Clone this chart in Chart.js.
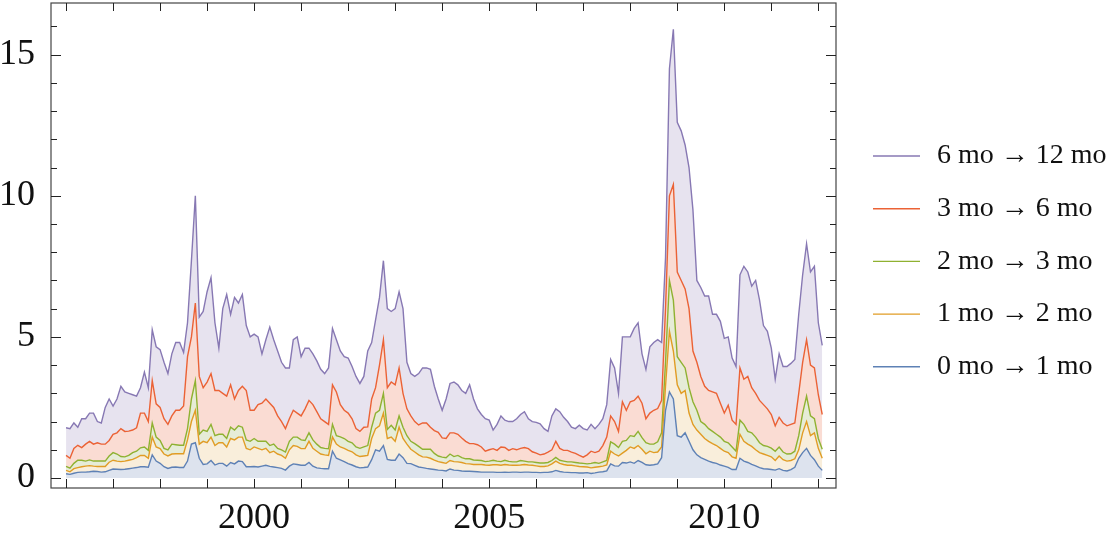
<!DOCTYPE html>
<html>
<head>
<meta charset="utf-8">
<title>Implied forward variance</title>
<script src="https://cdn.jsdelivr.net/npm/chart.js@4.4.1/dist/chart.umd.min.js"></script>
<style>
  html, body { margin: 0; padding: 0; background: #ffffff; }
  #wrap { width: 1117px; height: 533px; }
</style>
</head>
<body>
<div id="wrap"><canvas id="myChart" width="1117" height="533"></canvas></div>
<script>
// ---------- data (monthly, Jan 1996 .. Feb 2012) ----------
const startYear = 1996;

const labels = ['0 mo \u2192 1 mo', '1 mo \u2192 2 mo', '2 mo \u2192 3 mo', '3 mo \u2192 6 mo', '6 mo \u2192 12 mo'];

const blue = [
  0.15, 0.13, 0.17, 0.2, 0.21, 0.21, 0.22, 0.24, 0.23, 0.21, 0.22, 0.27,
  0.32, 0.31, 0.3, 0.31, 0.33, 0.35, 0.37, 0.4, 0.4, 0.38, 0.82, 0.6,
  0.52, 0.4, 0.34, 0.38, 0.39, 0.37, 0.37, 0.6, 1.2, 1.25, 0.7, 0.48,
  0.5, 0.62, 0.46, 0.52, 0.52, 0.42, 0.55, 0.5, 0.6, 0.58, 0.4, 0.4,
  0.41, 0.39, 0.42, 0.45, 0.41, 0.39, 0.37, 0.34, 0.28, 0.42, 0.5, 0.48,
  0.45, 0.45, 0.55, 0.42, 0.36, 0.34, 0.33, 0.33, 0.95, 0.7, 0.64, 0.58,
  0.51, 0.46, 0.4, 0.36, 0.37, 0.39, 0.65, 1.0, 0.95, 1.15, 0.66, 0.63,
  0.63, 0.85, 0.72, 0.52, 0.51, 0.45, 0.39, 0.37, 0.34, 0.32, 0.3, 0.28,
  0.27, 0.25, 0.32, 0.28, 0.27, 0.25, 0.24, 0.24, 0.23, 0.22, 0.21, 0.21,
  0.21, 0.21, 0.2, 0.2, 0.21, 0.2, 0.21, 0.21, 0.2, 0.21, 0.21, 0.2,
  0.2, 0.19, 0.2, 0.2, 0.22, 0.27, 0.23, 0.21, 0.2, 0.19, 0.19, 0.18,
  0.18, 0.19, 0.16, 0.18, 0.21, 0.22, 0.25, 0.5, 0.43, 0.42, 0.55, 0.53,
  0.57, 0.52, 0.62, 0.55, 0.47, 0.45, 0.47, 0.5, 0.72, 2.4, 3.05, 2.8,
  1.5, 1.45, 1.6, 1.3, 1.0, 0.82, 0.72, 0.66, 0.6, 0.55, 0.52, 0.46,
  0.42, 0.38, 0.3, 0.3, 0.7, 0.6, 0.55, 0.48, 0.43, 0.37, 0.33, 0.32,
  0.3, 0.28, 0.33, 0.27, 0.25, 0.3, 0.38, 0.7, 0.9, 1.05, 0.8, 0.65,
  0.42, 0.27
];

const orange = [
  0.27, 0.22, 0.33, 0.37, 0.4, 0.42, 0.44, 0.42, 0.41, 0.41, 0.41, 0.56,
  0.63, 0.6, 0.58, 0.6, 0.63, 0.66, 0.72, 0.8, 0.8, 0.7, 1.45, 1.1,
  1.04, 0.85, 0.78, 0.85, 0.86, 0.86, 0.86, 1.35, 2.0, 2.4, 1.2, 1.3,
  1.25, 1.45, 1.15, 1.25, 1.25, 1.1, 1.4, 1.35, 1.45, 1.45, 1.05, 1.0,
  1.1, 1.05, 1.0, 1.05, 0.9, 0.95, 0.85, 0.8, 0.7, 1.0, 1.15, 1.12,
  1.04, 1.04, 1.3, 1.05, 0.95, 0.85, 0.82, 0.8, 1.45, 1.2, 1.1, 1.05,
  0.98, 0.93, 0.82, 0.76, 0.78, 0.8, 1.4, 1.75, 1.85, 2.3, 1.4, 1.45,
  1.3, 1.8, 1.4, 1.2, 1.02, 0.92, 0.82, 0.75, 0.74, 0.7, 0.63, 0.58,
  0.55, 0.52, 0.62, 0.58, 0.57, 0.55, 0.51, 0.5, 0.48, 0.48, 0.48, 0.46,
  0.45, 0.47, 0.47, 0.45, 0.48, 0.46, 0.45, 0.45, 0.46, 0.48, 0.46, 0.45,
  0.43, 0.41, 0.41, 0.43, 0.5, 0.6, 0.52, 0.48, 0.45, 0.45, 0.43, 0.41,
  0.4, 0.39, 0.36, 0.38, 0.4, 0.42, 0.46, 0.95, 0.85, 0.78, 0.88, 0.98,
  1.1, 1.05, 1.15, 1.02, 0.86, 0.95, 0.9, 0.92, 1.1, 3.25, 5.2, 4.5,
  3.3, 3.0, 3.1, 2.3, 1.9, 1.7, 1.55, 1.4, 1.3, 1.22, 1.15, 1.05,
  0.95, 0.9, 0.75, 0.7, 1.55, 1.3, 1.2, 1.12, 1.0, 0.9, 0.85, 0.8,
  0.75, 0.62, 0.78, 0.65, 0.6, 0.62, 0.68, 1.0, 1.6, 2.0, 1.5, 1.6,
  1.05, 0.7
];

const green = [
  0.41, 0.35, 0.52, 0.63, 0.63, 0.6, 0.64, 0.6, 0.6, 0.6, 0.6, 0.78,
  0.9, 0.85, 0.76, 0.75, 0.8, 0.9, 0.95, 1.07, 1.1, 0.98, 1.95, 1.45,
  1.33, 1.05, 1.0, 1.2, 1.18, 1.16, 1.16, 1.75, 2.8, 3.45, 1.55, 1.7,
  1.65, 1.9, 1.5, 1.55, 1.55, 1.4, 1.8, 1.7, 1.85, 1.8, 1.35, 1.3,
  1.4, 1.3, 1.3, 1.3, 1.15, 1.2, 1.05, 1.0, 0.92, 1.3, 1.45, 1.45,
  1.35, 1.33, 1.6, 1.35, 1.2, 1.08, 1.05, 1.04, 1.9, 1.5, 1.46, 1.4,
  1.3, 1.25, 1.1, 1.05, 1.1, 1.15, 1.8, 2.3, 2.4, 3.0, 1.72, 1.87,
  1.7, 2.2, 1.8, 1.5, 1.3, 1.22, 1.12, 1.02, 1.02, 1.02, 0.87, 0.78,
  0.74, 0.72, 0.85, 0.76, 0.8, 0.72, 0.68, 0.68, 0.64, 0.63, 0.62, 0.58,
  0.6, 0.63, 0.6, 0.58, 0.63, 0.59, 0.57, 0.57, 0.62, 0.6, 0.57, 0.57,
  0.55, 0.53, 0.53, 0.55, 0.62, 0.73, 0.63, 0.6, 0.57, 0.57, 0.55, 0.53,
  0.52, 0.5, 0.52, 0.55, 0.52, 0.57, 0.62, 1.28, 1.2, 1.08, 1.3, 1.33,
  1.5, 1.47, 1.65, 1.43, 1.25, 1.2, 1.2, 1.28, 1.6, 4.1, 7.0, 6.3,
  4.3, 4.1, 3.9, 3.2, 2.7, 2.4, 2.0, 1.9, 1.75, 1.65, 1.55, 1.45,
  1.3, 1.25, 1.1, 0.95, 2.05, 1.9, 1.65, 1.6, 1.45, 1.25, 1.15, 1.12,
  1.06, 0.95, 1.1, 0.92, 0.85, 0.86, 0.95, 1.5, 2.3, 2.9, 2.2, 2.1,
  1.4, 1.02
];

const red = [
  0.8, 0.7, 1.05, 1.16, 1.08, 1.2, 1.3, 1.2, 1.25, 1.2, 1.2, 1.33,
  1.55, 1.6, 1.75, 1.65, 1.66, 1.7, 1.78, 2.3, 2.3, 2.0, 3.45, 2.63,
  2.5, 2.1, 1.9, 2.2, 2.4, 2.4, 2.55, 4.3, 5.0, 6.2, 3.6, 3.2,
  3.4, 3.7, 3.1, 3.1, 3.0, 2.9, 3.3, 2.8, 3.1, 3.25, 3.1, 2.4,
  2.4, 2.6, 2.65, 2.8, 2.65, 2.5, 2.2, 2.0, 1.75, 2.1, 2.4, 2.3,
  2.2, 2.45, 2.75, 2.6, 2.35, 2.1, 2.0, 1.9, 3.3, 3.05, 2.6, 2.4,
  2.3, 2.1, 1.75, 1.65, 1.8, 1.81, 2.8, 3.2, 4.0, 4.9, 3.2, 3.4,
  3.3, 3.9, 3.0, 2.45, 2.2, 2.0, 1.88, 1.95, 1.95, 1.8, 1.68, 1.62,
  1.42, 1.4, 1.6, 1.6, 1.55, 1.42, 1.3, 1.22, 1.22, 1.18, 1.1, 0.95,
  1.0, 1.04, 0.98, 1.1, 1.08, 0.98, 1.04, 1.0, 1.05, 1.08, 1.04, 0.93,
  0.88, 0.82, 0.85, 0.92, 1.0, 1.3, 1.05, 0.98, 0.98, 0.92, 0.87, 0.8,
  0.74, 0.82, 0.95, 0.9, 0.95, 1.15, 1.45, 2.2, 2.0, 1.65, 2.7, 2.4,
  2.7, 2.75, 2.9, 2.65, 2.1, 2.3, 2.4, 2.46, 2.75, 6.0, 10.0, 10.4,
  7.3, 7.0, 6.7, 6.0, 4.5, 4.1, 3.6, 3.25, 3.1, 3.05, 3.0, 2.65,
  2.3, 2.58, 2.05, 1.9, 3.9, 3.5, 3.6, 3.2, 3.0, 2.75, 2.6, 2.45,
  2.25, 1.85, 2.15, 1.95, 1.85, 1.9, 1.95, 3.0, 4.1, 4.9, 4.0, 3.9,
  2.95, 2.25
];

const purple = [
  1.78, 1.75, 1.95, 1.8, 2.1, 2.1, 2.3, 2.3, 2.0, 1.95, 2.5, 2.8,
  2.55, 2.8, 3.25, 3.05, 3.0, 2.95, 2.9, 3.2, 3.75, 3.2, 5.25, 4.65,
  4.55, 4.1, 3.7, 4.4, 4.8, 4.8, 4.45, 5.5, 7.7, 10.0, 5.7, 5.9,
  6.6, 7.1, 5.5, 4.6, 6.0, 6.5, 5.8, 6.4, 6.2, 6.5, 5.4, 5.0,
  5.1, 5.0, 4.4, 4.9, 5.35, 4.9, 4.5, 4.1, 3.9, 3.9, 4.9, 5.0,
  4.3, 4.6, 4.6, 4.4, 4.15, 3.85, 3.7, 3.9, 5.3, 4.9, 4.5, 4.3,
  4.25, 3.95, 3.6, 3.35, 3.6, 4.5, 4.8, 5.6, 6.4, 7.7, 6.0, 5.9,
  6.0, 6.6, 6.0, 4.1, 3.7, 3.6, 3.7, 3.9, 3.9, 3.85, 3.25, 2.8,
  2.4, 2.8, 3.35, 3.4, 3.3, 3.1, 3.0, 3.3, 2.8, 2.45, 2.25, 2.1,
  2.05, 1.7, 1.9, 2.2, 2.05, 2.0, 2.0, 2.1, 2.25, 2.35, 2.1, 2.0,
  1.97, 1.92, 1.75, 1.65, 2.2, 2.45, 2.35, 2.15, 2.0, 1.8, 1.75, 1.87,
  1.75, 1.7, 1.9, 1.75, 1.9, 2.1, 2.6, 4.2, 3.9, 3.0, 5.0, 5.0,
  5.0, 5.3, 5.5, 4.4, 3.85, 4.65, 4.8, 4.9, 4.8, 7.8, 14.5, 15.9,
  12.6, 12.3, 11.8, 11.0, 9.5, 7.0, 6.75, 6.45, 6.45, 5.8, 5.8, 5.55,
  4.95, 5.0, 4.25, 3.95, 7.2, 7.5, 7.3, 6.8, 7.0, 6.3, 5.4, 5.2,
  4.6, 3.5, 4.4, 3.95, 3.95, 4.06, 4.2, 5.8, 7.2, 8.3, 7.3, 7.5,
  5.5, 4.7
];

const xTickLabels = [2000, 2005, 2010];
const yTickLabels = [0, 5, 10, 15];

// month index -> decimal year
const dates = blue.map((v, i) => startYear + i / 12);
const toPoints = arr => arr.map((v, i) => ({ x: dates[i], y: v }));

const lineColors = ['#5e81b5', '#e19c24', '#8fb131', '#eb6235', '#8778b3'];
const fillColors = ['#dde3ee', '#f9eedb', '#e6ecd7', '#fadcd3', '#e7e3ef'];
const seriesValues = [blue, orange, green, red, purple];

const serif = "'Liberation Serif', 'Times New Roman', serif";

// ---------- frame with inward ticks on all four sides ----------
const frameTicks = {
  id: 'frameTicks',
  afterDatasetsDraw(chart) {
    const ctx = chart.ctx;
    const a = chart.chartArea;
    const x = chart.scales.x;
    const y = chart.scales.y;
    ctx.save();
    ctx.strokeStyle = '#444';
    ctx.lineWidth = 1.2;
    ctx.strokeRect(a.left, a.top, a.right - a.left, a.bottom - a.top);

    ctx.strokeStyle = '#222';
    ctx.lineWidth = 1;
    ctx.beginPath();
    for (let yr = 1996; yr <= 2012; yr++) {
      const px = Math.round(x.getPixelForValue(yr)) + 0.5;
      ctx.moveTo(px, a.bottom); ctx.lineTo(px, a.bottom - 9);
      ctx.moveTo(px, a.top); ctx.lineTo(px, a.top + 8);
    }
    for (let v = 0; v <= 16; v++) {
      const py = Math.round(y.getPixelForValue(v)) + 0.5;
      const len = v % 5 === 0 ? 10 : 6;
      ctx.moveTo(a.left, py); ctx.lineTo(a.left + len, py);
      ctx.moveTo(a.right, py); ctx.lineTo(a.right - len, py);
    }
    ctx.stroke();
    ctx.restore();
  }
};

// ---------- legend on the right (top series first) ----------
const sideLegend = {
  id: 'sideLegend',
  afterDraw(chart) {
    const ctx = chart.ctx;
    const items = chart.data.datasets.slice().reverse();
    ctx.save();
    ctx.font = "28px 'Liberation Serif', 'DejaVu Serif', serif";
    ctx.textBaseline = 'middle';
    ctx.textAlign = 'left';
    items.forEach((ds, i) => {
      const cy = 156 + i * 52.7;
      ctx.strokeStyle = ds.borderColor;
      ctx.lineWidth = 1.4;
      ctx.beginPath();
      ctx.moveTo(873, cy);
      ctx.lineTo(920, cy);
      ctx.stroke();
      ctx.fillStyle = '#111';
      ctx.fillText(ds.label, 937, cy);
    });
    ctx.restore();
  }
};

document.addEventListener('DOMContentLoaded', function () {
  const ctx = document.getElementById('myChart').getContext('2d');

  const datasets = seriesValues.map((arr, i) => ({
    label: labels[i],
    data: toPoints(arr),
    borderColor: lineColors[i],
    backgroundColor: fillColors[i],
    borderWidth: 1.4,
    pointRadius: 0,
    tension: 0,
    fill: i === 0 ? 'origin' : '-1'
  }));

  new Chart(ctx, {
    type: 'line',
    data: { datasets: datasets },
    options: {
      responsive: false,
      animation: false,
      layout: { padding: { top: 3, right: 281, left: 0, bottom: 0 } },
      plugins: {
        legend: { display: false },
        tooltip: { enabled: false }
      },
      scales: {
        x: {
          type: 'linear',
          min: 1995.68,
          max: 2012.376,
          grid: { display: false },
          border: { display: false },
          afterBuildTicks: axis => { axis.ticks = xTickLabels.map(v => ({ value: v })); },
          afterFit: axis => {
            axis.height = 45;
            axis.paddingLeft = 0;
            axis.paddingRight = 0;
          },
          ticks: {
            padding: 1,
            maxRotation: 0,
            color: '#111',
            font: { family: serif, size: 36 },
            callback: v => String(v)
          }
        },
        y: {
          min: -0.354,
          max: 16.83,
          grid: { display: false },
          border: { display: false },
          afterBuildTicks: axis => { axis.ticks = yTickLabels.map(v => ({ value: v })); },
          afterFit: axis => {
            axis.width = 51;
            axis.paddingTop = 0;
            axis.paddingBottom = 0;
          },
          ticks: {
            padding: 8,
            color: '#111',
            font: { family: serif, size: 36 },
            callback: v => String(v)
          }
        }
      }
    },
    plugins: [frameTicks, sideLegend]
  });
});
</script>
</body>
</html>
